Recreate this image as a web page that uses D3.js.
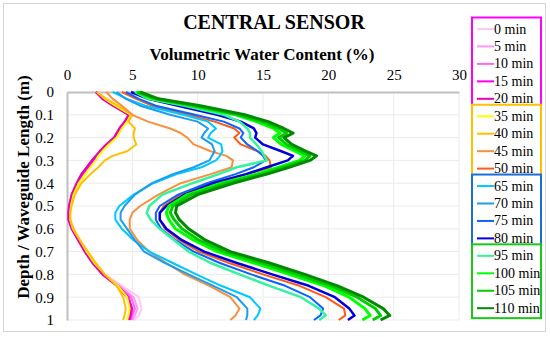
<!DOCTYPE html>
<html>
<head>
<meta charset="utf-8">
<script src="https://cdn.jsdelivr.net/npm/d3@7"></script>
<style>
  html, body { margin: 0; padding: 0; background: #fff; }
  svg { display: block; }
  text { font-family: "Liberation Serif", "Times New Roman", serif; fill: #000; }
</style>
</head>
<body>
<svg id="chart" width="550" height="337"></svg>
<script>
// ---------- DATA ----------
const depths = [0, 0.03, 0.06, 0.1, 0.13, 0.16, 0.18, 0.2, 0.23, 0.26, 0.28, 0.3, 0.33, 0.36, 0.4, 0.45, 0.5, 0.53, 0.56, 0.6, 0.65, 0.7, 0.75, 0.8, 0.85, 0.9, 0.95, 0.98, 1.0];

const min0   = [2.4, 2.9, 3.7, 4.9, 4.6, 4.2, 4.0, 3.8, 3.2, 2.7, 2.4, 2.1, 1.7, 1.3, 0.9, 0.5, 0.3, 0.25, 0.25, 0.5, 1.0, 1.5, 2.1, 2.9, 4.2, 5.5, 5.7, 5.5, 5.1];
const min5   = [2.3, 2.8, 3.6, 4.8, 4.5, 4.1, 3.9, 3.7, 3.1, 2.6, 2.3, 2.0, 1.6, 1.2, 0.8, 0.4, 0.2, 0.15, 0.2, 0.4, 0.9, 1.4, 2.0, 2.8, 4.0, 5.1, 5.4, 5.2, 5.0];
const min10  = [2.2, 2.7, 3.5, 4.8, 4.4, 4.0, 3.8, 3.6, 3.0, 2.5, 2.2, 1.9, 1.5, 1.1, 0.7, 0.35, 0.15, 0.1, 0.15, 0.35, 0.85, 1.35, 1.95, 2.75, 3.9, 4.9, 5.2, 5.0, 4.9];
const min15  = [2.3, 2.8, 3.6, 4.85, 4.5, 4.1, 3.9, 3.7, 3.1, 2.6, 2.3, 2.0, 1.6, 1.2, 0.8, 0.4, 0.2, 0.15, 0.15, 0.4, 0.9, 1.4, 2.0, 2.8, 3.9, 4.7, 5.0, 4.9, 4.8];
const min20  = [2.2, 2.7, 3.5, 4.7, 4.4, 4.0, 3.8, 3.6, 3.0, 2.5, 2.2, 1.9, 1.5, 1.1, 0.75, 0.35, 0.15, 0.1, 0.1, 0.35, 0.85, 1.35, 1.95, 2.7, 3.8, 4.6, 4.9, 4.8, 4.7];
const min35  = [2.3, 2.9, 3.7, 4.9, 4.6, 4.2, 4.0, 3.8, 3.2, 2.7, 2.4, 2.2, 1.8, 1.4, 0.9, 0.5, 0.3, 0.25, 0.25, 0.45, 1.0, 1.5, 2.1, 2.9, 3.9, 4.6, 4.8, 4.7, 4.6];
const min40  = [2.3, 3.0, 3.9, 5.0, 4.7, 5.2, 5.1, 5.1, 5.3, 4.6, 3.5, 2.9, 2.4, 1.8, 1.1, 0.6, 0.35, 0.25, 0.25, 0.5, 1.0, 1.6, 2.2, 2.9, 3.8, 4.3, 4.5, 4.4, 4.3];
const min45  = [3.0, 3.5, 4.2, 5.0, 6.2, 7.9, 8.7, 9.2, 9.7, 11.0, 12.2, 12.7, 12.6, 11.0, 8.7, 7.0, 5.6, 5.0, 4.8, 4.8, 5.4, 6.3, 7.6, 9.0, 10.9, 12.5, 13.2, 12.9, 12.5];
const min50  = [4.2, 5.3, 6.5, 9.3, 11.3, 12.8, 13.2, 12.8, 13.3, 14.6, 15.2, 15.5, 15.6, 13.8, 11.0, 8.7, 7.4, 7.1, 7.1, 7.5, 8.6, 10.1, 12.4, 15.0, 17.8, 19.8, 21.2, 21.3, 20.8];
const min65  = [3.5, 4.6, 6.0, 8.9, 10.8, 11.4, 11.0, 10.8, 11.8, 11.9, 11.7, 11.4, 10.3, 8.4, 6.6, 5.1, 4.0, 3.7, 3.7, 4.2, 5.1, 6.3, 8.1, 9.9, 11.8, 14.0, 14.8, 14.6, 14.3];
const min70  = [3.8, 4.5, 5.6, 7.9, 10.0, 10.8, 10.5, 10.3, 11.1, 11.3, 11.1, 10.9, 9.7, 8.1, 6.5, 5.2, 4.4, 4.1, 4.1, 4.6, 5.2, 5.9, 7.5, 9.3, 11.2, 13.0, 13.8, 13.8, 13.7];
const min75  = [4.5, 5.5, 6.8, 9.8, 12.0, 13.2, 13.5, 13.3, 13.8, 14.6, 15.0, 15.2, 14.3, 12.9, 10.7, 8.5, 7.1, 6.8, 6.8, 7.2, 8.3, 9.7, 11.7, 14.1, 16.7, 18.6, 19.6, 19.4, 18.9];
const min80  = [4.9, 6.2, 8.5, 11.5, 13.3, 14.3, 14.5, 14.4, 15.0, 16.4, 17.3, 16.9, 15.3, 13.7, 11.2, 9.0, 7.6, 7.1, 7.1, 7.6, 8.8, 10.5, 13.0, 15.7, 18.5, 20.5, 21.6, 22.0, 21.5];
const min95  = [5.2, 6.2, 9.0, 12.0, 13.2, 13.8, 14.0, 14.0, 14.5, 14.9, 15.1, 15.3, 13.0, 11.6, 9.6, 7.3, 6.3, 6.1, 6.4, 7.1, 8.2, 9.3, 11.0, 13.2, 15.5, 17.9, 19.3, 19.8, 19.3];
const min100 = [5.3, 6.6, 9.5, 12.9, 14.5, 15.8, 16.3, 15.8, 16.4, 17.5, 18.2, 17.8, 16.2, 14.5, 11.8, 9.2, 7.8, 7.6, 7.8, 8.3, 9.7, 11.5, 14.3, 17.0, 19.7, 21.6, 22.8, 23.2, 22.6];
const min105 = [5.4, 6.8, 9.8, 13.2, 14.9, 16.2, 16.8, 16.2, 16.8, 17.9, 18.6, 18.2, 16.6, 14.9, 12.2, 9.5, 8.1, 7.9, 8.2, 8.8, 10.1, 12.0, 14.9, 17.6, 20.2, 22.2, 23.6, 24.0, 23.4];
const min110 = [5.6, 7.0, 10.2, 13.6, 15.4, 16.6, 17.3, 16.6, 17.2, 18.3, 19.1, 18.6, 17.0, 15.3, 12.7, 10.0, 8.4, 8.3, 8.6, 9.3, 10.6, 12.5, 15.5, 18.2, 20.7, 22.7, 24.2, 24.7, 24.0];

const seriesLabels = ["0 min", "5 min", "10 min", "15 min", "20 min", "35 min", "40 min", "45 min", "50 min",
                      "65 min", "70 min", "75 min", "80 min", "95 min", "100 min", "105 min", "110 min"];
const seriesValues = [min0, min5, min10, min15, min20, min35, min40, min45, min50,
                      min65, min70, min75, min80, min95, min100, min105, min110];
const seriesColors = ["#FFC8F4", "#FF99F0", "#FF66F5", "#FF00F0", "#E600B8", "#FFFF00", "#FFC000", "#F7913D", "#FF5A14",
                      "#00C8FF", "#1E9CF0", "#0A64FF", "#0000DC", "#33F2A0", "#00FF00", "#00CC00", "#008A00"];
const groupSizes = [5, 4, 4, 4];
const groupColors = ["#FF00FF", "#FFC000", "#1A6FD6", "#19C819"];

const xTicks = [0, 5, 10, 15, 20, 25, 30];
const yTicks = [0, 0.1, 0.2, 0.3, 0.4, 0.5, 0.6, 0.7, 0.8, 0.9, 1];

// ---------- CHART ----------
const svg = d3.select("#chart");

svg.append("rect").attr("x", 3.5).attr("y", 3.5).attr("width", 542).attr("height", 328)
  .attr("fill", "#fff").attr("stroke", "#D4D4D4").attr("stroke-width", 1);

const x = d3.scaleLinear().domain([0, 30]).range([67, 459]);
const y = d3.scaleLinear().domain([0, 1]).range([92, 320]);

// gridlines
const grid = svg.append("g");
grid.selectAll("line.v").data(xTicks.slice(1)).join("line")
  .attr("x1", d => x(d)).attr("x2", d => x(d)).attr("y1", y(0)).attr("y2", y(1))
  .attr("stroke", "#EBEBEB").attr("stroke-width", 1);
grid.selectAll("line.h").data(yTicks.slice(1)).join("line")
  .attr("x1", x(0)).attr("x2", x(30)).attr("y1", d => y(d)).attr("y2", d => y(d))
  .attr("stroke", "#EBEBEB").attr("stroke-width", 1);

// axes
const xAxis = svg.append("g").attr("transform", `translate(0,${y(0)})`)
  .call(d3.axisTop(x).tickValues(xTicks).tickSize(0).tickPadding(12).tickFormat(d3.format("d")));
xAxis.select(".domain").attr("stroke", "#BFBFBF").attr("stroke-width", 2);
xAxis.selectAll("text").style("font-family", "Liberation Serif").style("font-size", "15px").attr("fill", "#000");

const yAxis = svg.append("g").attr("transform", `translate(${x(0)},0)`)
  .call(d3.axisLeft(y).tickValues(yTicks).tickSize(0).tickPadding(13).tickFormat(d => d === 0 ? "0" : d === 1 ? "1" : d3.format(".1f")(d)));
yAxis.select(".domain").attr("stroke", "#BFBFBF").attr("stroke-width", 2);
yAxis.selectAll("text").style("font-family", "Liberation Serif").style("font-size", "15px").attr("fill", "#000");

// series lines
const line = d3.line().x(d => x(d[1])).y(d => y(d[0])).curve(d3.curveLinear);
const lines = svg.append("g");
seriesValues.forEach((vals, i) => {
  const pts = depths.map((d, k) => [d, vals[k]]);
  lines.append("path").datum(pts)
    .attr("d", line)
    .attr("fill", "none")
    .attr("stroke", seriesColors[i])
    .attr("stroke-width", i >= 14 ? 3 : (i === 12 || i === 13 ? 2.5 : 2))
    .attr("stroke-linejoin", "round");
});

// titles
svg.append("text").attr("x", 274).attr("y", 28.5).attr("text-anchor", "middle")
  .style("font-size", "20px").style("font-weight", "bold").text("CENTRAL SENSOR");
svg.append("text").attr("x", 262).attr("y", 60).attr("text-anchor", "middle")
  .style("font-size", "17px").style("font-weight", "bold").text("Volumetric Water Content (%)");
svg.append("text").attr("transform", "translate(29,187) rotate(-90)").attr("text-anchor", "middle")
  .style("font-size", "17px").style("font-weight", "bold").text("Depth / Waveguide Length (m)");

// legend
const lg = svg.append("g");
const legY0 = 29, legStep = 17.45;
let idx = 0;
groupSizes.forEach((n, g) => {
  const top = legY0 + idx * legStep - 11.5;
  const h = n * legStep + 4;
  lg.append("rect").attr("x", 472).attr("y", top).attr("width", 69).attr("height", h)
    .attr("fill", "#fff").attr("stroke", groupColors[g]).attr("stroke-width", 2);
  idx += n;
});
seriesLabels.forEach((lab, i) => {
  const yy = legY0 + i * legStep;
  lg.append("line").attr("x1", 477).attr("x2", 494).attr("y1", yy).attr("y2", yy)
    .attr("stroke", seriesColors[i]).attr("stroke-width", 2);
  lg.append("text").attr("x", 494).attr("y", yy + 4.5).style("font-size", "14px").text(lab);
});
</script>
</body>
</html>
